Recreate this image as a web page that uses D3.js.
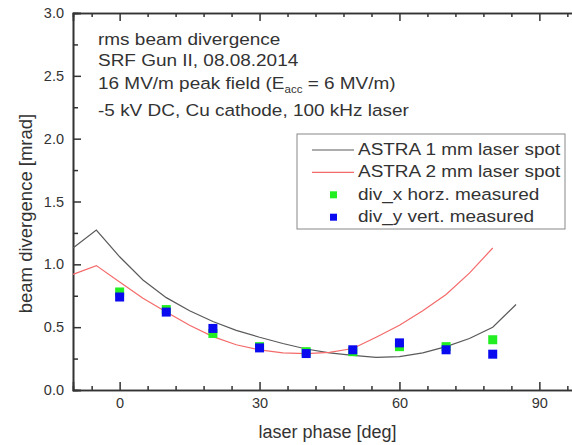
<!DOCTYPE html>
<html>
<head>
<meta charset="utf-8">
<script src="https://cdn.jsdelivr.net/npm/d3@7"></script>
<style>
  body { margin: 0; background: #fff; }
  svg { font-family: "Liberation Sans", Arial, sans-serif; }
</style>
</head>
<body>
<div id="chart"></div>
<script>
// simulated curves (every 5 deg)
const astra1Phase = [-10, -5, 0, 5, 10, 15, 20, 25, 30, 35, 40, 45, 50, 55, 60, 65, 70, 75, 80, 85];
const astra1Div = [1.13, 1.273, 1.06, 0.875, 0.735, 0.63, 0.545, 0.475, 0.42, 0.37, 0.326, 0.295, 0.275, 0.26, 0.265, 0.295, 0.345, 0.41, 0.50, 0.68];
const astra2Phase = [-10, -5, 0, 5, 10, 15, 20, 25, 30, 35, 40, 45, 50, 55, 60, 65, 70, 75, 80];
const astra2Div = [0.92, 0.99, 0.86, 0.73, 0.62, 0.515, 0.425, 0.36, 0.32, 0.295, 0.29, 0.30, 0.33, 0.42, 0.515, 0.63, 0.76, 0.93, 1.13];

// measured points
const measPhase = [0, 10, 20, 30, 40, 50, 60, 70, 80];
const divX = [0.78, 0.64, 0.45, 0.345, 0.305, 0.305, 0.345, 0.345, 0.40];
const divY = [0.74, 0.62, 0.49, 0.335, 0.29, 0.32, 0.375, 0.32, 0.285];

const xMajor = [0, 30, 60, 90];
const yMajor = [0, 0.5, 1.0, 1.5, 2.0, 2.5, 3.0];

const width = 572, height = 445;
const plotLeft = 73, plotTop = 13, plotBottom = 390, plotRight = 586;
const stretch = 1.15; // text in the original is a bit wide

const svg = d3.select("#chart").append("svg")
  .attr("width", width)
  .attr("height", height);

const x = d3.scaleLinear().domain([-10, 100]).range([plotLeft, plotRight]);
const y = d3.scaleLinear().domain([0, 3]).range([plotBottom, plotTop]);

const axisColor = "#333";
const xMinor = d3.range(-6, 100, 6).filter(v => !xMajor.includes(v));
const yMinor = d3.range(0.25, 3, 0.5);

// minor ticks
svg.append("g")
  .attr("transform", `translate(0,${plotBottom})`)
  .call(d3.axisBottom(x).tickValues(xMinor).tickSize(-4).tickFormat(""));
svg.append("g")
  .attr("transform", `translate(0,${plotTop})`)
  .call(d3.axisTop(x).tickValues(xMinor).tickSize(-4).tickFormat(""));
svg.append("g")
  .attr("transform", `translate(${plotLeft},0)`)
  .call(d3.axisLeft(y).tickValues(yMinor).tickSize(-5).tickFormat(""));

// major ticks
svg.append("g")
  .attr("transform", `translate(0,${plotBottom})`)
  .call(d3.axisBottom(x).tickValues(xMajor).tickSize(-8).tickPadding(8).tickFormat(d3.format("d")));
svg.append("g")
  .attr("transform", `translate(0,${plotTop})`)
  .call(d3.axisTop(x).tickValues(xMajor).tickSize(-8).tickFormat(""));
svg.append("g")
  .attr("transform", `translate(${plotLeft},0)`)
  .call(d3.axisLeft(y).tickValues(yMajor).tickSize(-8).tickPadding(9).tickFormat(d3.format(".1f")));

svg.selectAll(".domain").attr("stroke", axisColor).attr("stroke-width", 1.6);
svg.selectAll(".tick line").attr("stroke", axisColor).attr("stroke-width", 1.5);
svg.selectAll(".tick text").attr("fill", "#333").style("font-size", "14.5px")
  .style("font-family", "'Liberation Sans', Arial, sans-serif");

// axis titles
svg.append("text")
  .attr("x", (plotLeft + plotRight) / 2 - 2)
  .attr("y", 438)
  .attr("text-anchor", "middle")
  .attr("fill", "#333")
  .style("font-size", "18px")
  .text("laser phase [deg]");
svg.append("text")
  .attr("transform", `translate(32,${(plotTop + plotBottom) / 2 + 12}) rotate(-90)`)
  .attr("text-anchor", "middle")
  .attr("fill", "#333")
  .style("font-size", "18.5px")
  .text("beam divergence [mrad]");

// curves
const line = d3.line().x(d => x(d[0])).y(d => y(d[1]));
svg.append("path")
  .datum(d3.zip(astra1Phase, astra1Div))
  .attr("d", line)
  .attr("fill", "none")
  .attr("stroke", "#5a5a5a")
  .attr("stroke-width", 1.2);
svg.append("path")
  .datum(d3.zip(astra2Phase, astra2Div))
  .attr("d", line)
  .attr("fill", "none")
  .attr("stroke", "#f46a6a")
  .attr("stroke-width", 1.2);

// measured squares
const sq = 9;
svg.append("g").selectAll("rect")
  .data(d3.zip(measPhase, divX))
  .join("rect")
  .attr("x", d => x(d[0]) - sq / 2)
  .attr("y", d => y(d[1]) - sq / 2)
  .attr("width", sq).attr("height", sq)
  .attr("fill", "#22ee22");
svg.append("g").selectAll("rect")
  .data(d3.zip(measPhase, divY))
  .join("rect")
  .attr("x", d => x(d[0]) - sq / 2)
  .attr("y", d => y(d[1]) - sq / 2)
  .attr("width", sq).attr("height", sq)
  .attr("fill", "#0a0af0");

// annotation
const notes = svg.append("g").attr("fill", "#333").style("font-size", "16.5px");
const note = (yy) => notes.append("text")
  .attr("transform", `translate(98,${yy}) scale(${stretch},1)`);
note(45).text("rms beam divergence");
note(66).text("SRF Gun II, 08.08.2014");
const l3 = note(89);
l3.append("tspan").text("16 MV/m peak field (E");
l3.append("tspan").attr("dy", 4).style("font-size", "10px").text("acc");
l3.append("tspan").attr("dy", -4).text(" = 6 MV/m)");
note(116).text("-5 kV DC, Cu cathode, 100 kHz laser");

// legend
const legend = svg.append("g");
legend.append("rect")
  .attr("x", 297).attr("y", 134)
  .attr("width", 268).attr("height", 95)
  .attr("fill", "#fff")
  .attr("stroke", "#888")
  .attr("stroke-width", 1);
const items = [
  {label: "ASTRA 1 mm laser spot", type: "line", color: "#5a5a5a"},
  {label: "ASTRA 2 mm laser spot", type: "line", color: "#f46a6a"},
  {label: "div_x horz. measured", type: "sq", color: "#22ee22"},
  {label: "div_y vert. measured", type: "sq", color: "#0a0af0"}
];
items.forEach((it, i) => {
  const base = 155 + i * 22.4;
  const cy = base - 5;
  if (it.type === "line") {
    legend.append("line")
      .attr("x1", 312).attr("x2", 354)
      .attr("y1", cy).attr("y2", cy)
      .attr("stroke", it.color).attr("stroke-width", 1.2);
  } else {
    legend.append("rect")
      .attr("x", 330).attr("y", cy - 3.5)
      .attr("width", 7).attr("height", 7)
      .attr("fill", it.color);
  }
  legend.append("text")
    .attr("transform", `translate(358,${base}) scale(${stretch},1)`)
    .attr("fill", "#333")
    .style("font-size", "16.5px")
    .text(it.label);
});
</script>
</body>
</html>
